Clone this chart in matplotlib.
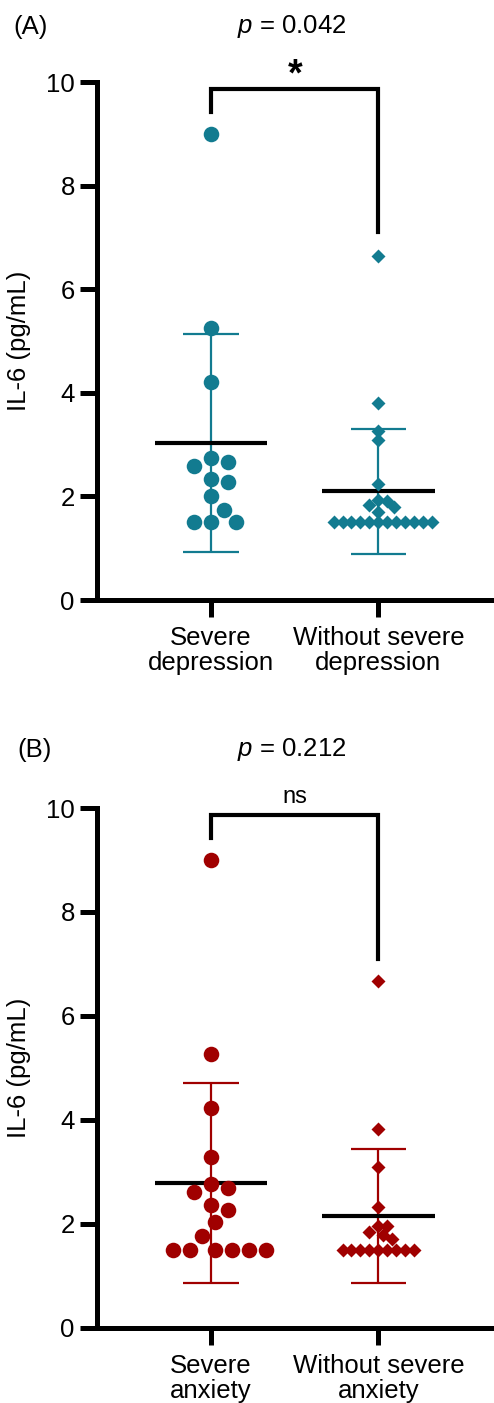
import numpy as np
import matplotlib
matplotlib.use("Agg")
import matplotlib.pyplot as plt

plt.rcParams['font.family'] = ['Liberation Sans', 'DejaVu Sans']
plt.rcParams['mathtext.fontset'] = 'custom'
plt.rcParams['mathtext.it'] = 'Liberation Sans:italic'
plt.rcParams['mathtext.rm'] = 'Liberation Sans'

# IL-6 values (pg/mL)
dep_severe = [9.0, 5.26, 4.21, 2.74, 2.67, 2.58, 2.34, 2.28, 2.01, 1.74,
              1.5, 1.5, 1.5]
dep_without = [6.65, 3.81, 3.27, 3.08, 2.23, 1.94, 1.92, 1.84, 1.80, 1.69,
               1.5, 1.5, 1.5, 1.5, 1.5, 1.5, 1.5, 1.5, 1.5, 1.5, 1.5, 1.5]
anx_severe = [9.0, 5.27, 4.23, 3.28, 2.76, 2.69, 2.60, 2.35, 2.27, 2.03, 1.76,
              1.5, 1.5, 1.5, 1.5, 1.5, 1.5]
anx_without = [6.67, 3.82, 3.09, 2.31, 1.95, 1.95, 1.84, 1.79, 1.71,
               1.5, 1.5, 1.5, 1.5, 1.5, 1.5, 1.5, 1.5, 1.5]

dep_labels = ["Severe\ndepression", "Without severe\ndepression"]
anx_labels = ["Severe\nanxiety", "Without severe\nanxiety"]
p_values = ["0.042", "0.212"]
sig_marks = ["*", "ns"]
panel_tags = ["(A)", "(B)"]

TEAL = '#127b90'
RED = '#a00000'
FS = 18.5

W, H = 494, 1403
PX_X = 168.0   # pixels per x unit
PX_Y = 51.7    # pixels per y unit


def swarm(vals, diam):
    # simple beeswarm: offsets in data units, no overlap in pixel space
    vals = np.asarray(vals, float)
    offs = np.zeros(len(vals))
    placed = []
    step = diam / 4.0
    for i in np.argsort(-vals, kind='stable'):
        y = vals[i] * PX_Y
        k = 0
        done = False
        while not done:
            cands = [0.0] if k == 0 else [k * step, -k * step]
            for x in cands:
                if all((x - px) ** 2 + (y - py) ** 2 >= diam ** 2 for px, py in placed):
                    placed.append((x, y))
                    offs[i] = x / PX_X
                    done = True
                    break
            k += 1
    return offs


def panel(ax, g1, g2, color, labels):
    for pos, vals, mk, ms, diam in [(0, g1, 'o', 11.2, 17), (1, g2, 'D', 7.3, 9)]:
        vals = np.asarray(vals)
        m = vals.mean()
        sd = vals.std(ddof=1)
        ax.vlines(pos, m - sd, m + sd, color=color, lw=1.6, zorder=2)
        ax.hlines([m - sd, m + sd], pos - 0.165, pos + 0.165, color=color, lw=1.6, zorder=2)
        ax.hlines(m, pos - 0.335, pos + 0.335, color='black', lw=3.0, zorder=3)
        ax.plot(pos + swarm(vals, diam), vals, mk, ms=ms, color=color,
                mec='none', zorder=4, clip_on=False)
    ax.set_xlim(-0.68, 1.69)
    ax.set_ylim(0, 10)
    ax.set_yticks([0, 2, 4, 6, 8, 10])
    ax.set_xticks([0, 1])
    ax.set_xticklabels(labels, linespacing=1.05)
    for s in ['top', 'right']:
        ax.spines[s].set_visible(False)
    for s in ['left', 'bottom']:
        ax.spines[s].set_linewidth(3.6)
    ax.tick_params(width=3.6, length=12, labelsize=FS, pad=4)
    ax.tick_params(axis='x', pad=7)
    ax.set_ylabel("IL-6 (pg/mL)", fontsize=FS)
    ax.yaxis.set_label_coords(-0.165, 0.5)
    ax.plot([0, 0, 1, 1], [9.43, 9.87, 9.87, 7.1], color='black', lw=3.0,
            solid_joinstyle='miter', clip_on=False)


fig = plt.figure(figsize=(W / 100, H / 100), dpi=100)
left = 97 / W
axA = fig.add_axes([left, (H - 600) / H, 1 - left, 518 / H])
axB = fig.add_axes([left, (H - 1327.5) / H, 1 - left, 519.5 / H])

panel(axA, dep_severe, dep_without, TEAL, dep_labels)
panel(axB, anx_severe, anx_without, RED, anx_labels)

for ax, tag, pv, sig, ytop, xtag in [(axA, panel_tags[0], p_values[0], sig_marks[0], 27, 13),
                                     (axB, panel_tags[1], p_values[1], sig_marks[1], 750, 17)]:
    fig.text(xtag / W, 1 - ytop / H, tag, fontsize=FS, ha='left', va='center')
    fig.text(292 / W, 1 - ytop / H, "$p$ = " + pv, fontsize=FS, ha='center', va='center')
    if sig == "*":
        ax.text(0.5, 9.93, sig, fontsize=27, fontweight='bold', ha='center',
                va='baseline', clip_on=False)
    else:
        ax.text(0.5, 10.22, sig, fontsize=17, ha='center', va='center', clip_on=False)

fig.savefig("out.png", dpi=100)
